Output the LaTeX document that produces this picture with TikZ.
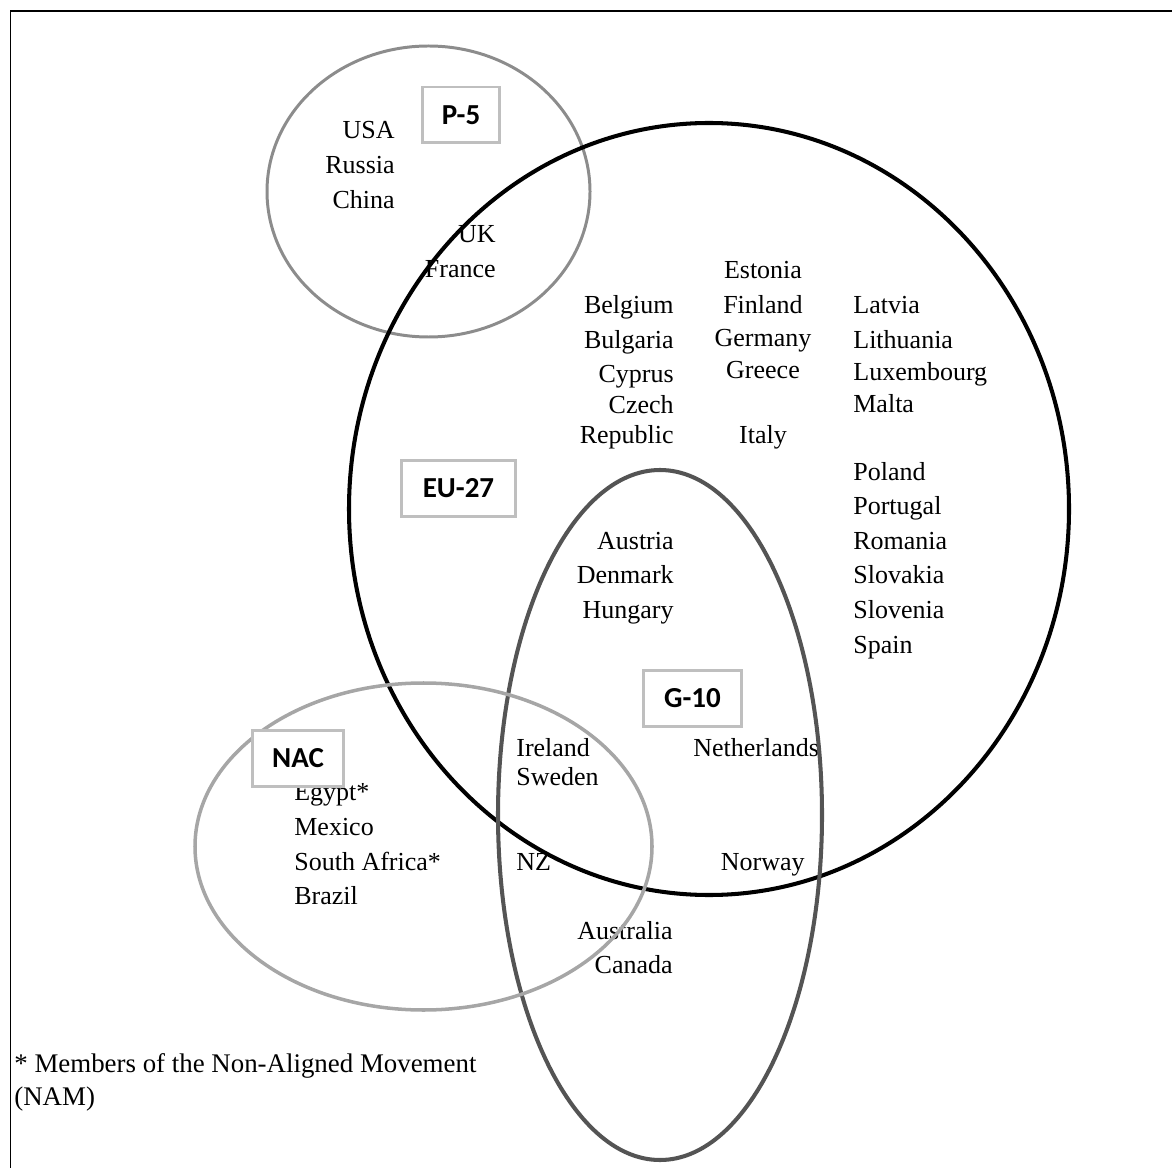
\documentclass[tikz,border=0pt]{standalone}
\usepackage{fontspec}
\setmainfont{Liberation Serif}
\newfontfamily\tagfont{Carlito}
\usepackage{tikz}
\usetikzlibrary{positioning}

\begin{document}
\begin{tikzpicture}[x=0.02cm,y=-0.02cm,
	country/.style={inner sep=0pt,font=\fontsize{14.8}{17}\selectfont},
	tagbox/.style={draw=black!25,line width=1.7pt,fill=white,minimum height=1.12cm,
		font=\tagfont\bfseries\fontsize{16.5}{18}\selectfont}]
	\useasboundingbox (0,0) rectangle (1172,1168);
	% Draw frame
	\draw[line width=1.1pt] (10.5,1168) -- (10.5,11) -- (1172,11);
	% Draw P-5 members
	\foreach \c [count=\i] in {USA,Russia,China}
		\node[country,anchor=base east] (p5-\i) at (395,{104+34.7*\i}) {\c};
	\node[country,anchor=base east] (uk) at (496,243) {UK};
	\node[country,anchor=base east] (france) at (496,278) {France};
	% Draw EU-27 members
	\node[country,anchor=base east] (belgium) at (674,314) {Belgium};
	\node[country,anchor=base east] (bulgaria) at (674,349) {Bulgaria};
	\node[country,anchor=base east] (cyprus) at (674,383) {Cyprus};
	\node[country,anchor=base east] (czech) at (674,414) {Czech};
	\node[country,anchor=base east] (republic) at (674,444) {Republic};
	\node[country,anchor=base] (estonia) at (763,279) {Estonia};
	\node[country,anchor=base] (finland) at (763,314) {Finland};
	\node[country,anchor=base] (germany) at (763,347) {Germany};
	\node[country,anchor=base] (greece) at (763,379) {Greece};
	\node[country,anchor=base] (italy) at (763,444) {Italy};
	\node[country,anchor=base west] (latvia) at (853,314) {Latvia};
	\node[country,anchor=base west] (lithuania) at (853,349) {Lithuania};
	\node[country,anchor=base west] (luxembourg) at (853,381) {Luxembourg};
	\node[country,anchor=base west] (malta) at (853,413) {Malta};
	\foreach \c [count=\i] in {Poland,Portugal,Romania,Slovakia,Slovenia,Spain}
		\node[country,anchor=base west] (eu-\i) at (853,{445.4+34.6*\i}) {\c};
	\foreach \c [count=\i] in {Austria,Denmark,Hungary}
		\node[country,anchor=base east] (eg-\i) at (674,{514.5+34.5*\i}) {\c};
	% Draw G-10 members
	\node[country,anchor=base west] (ireland) at (516,756) {Ireland};
	\node[country,anchor=base west] (sweden) at (516,785) {Sweden};
	\node[country,anchor=base west] (netherlands) at (693,756) {Netherlands};
	\node[country,anchor=base west] (nz) at (516,870) {NZ};
	\node[country,anchor=base east] (norway) at (805,870) {Norway};
	\node[country,anchor=base east] (australia) at (673,939) {Australia};
	\node[country,anchor=base east] (canada) at (673,973) {Canada};
	% Draw NAC members
	\foreach \c [count=\i] in {Egypt*,Mexico,South Africa*,Brazil}
		\node[country,anchor=base west] (nac-\i) at (294,{766+34.7*\i}) {\c};
	% Footnote
	\node[country,font=\fontsize{15.3}{17}\selectfont,anchor=base west] (note) at (14,1072) {* Members of the Non-Aligned Movement};
	\node[country,font=\fontsize{15.3}{17}\selectfont,anchor=base west] (nam) at (14,1105) {(NAM)};
	% Draw sets
	\draw[black!45,line width=1.7pt] (428.5,191.5) ellipse [x radius=161.5,y radius=145.5];
	\draw[black,line width=2.3pt] (709,509) ellipse [x radius=360,y radius=386];
	\draw[black!67,line width=2.3pt] (660,815) ellipse [x radius=162,y radius=345];
	\draw[black!35,line width=2pt] (423.5,846.5) ellipse [x radius=228.5,y radius=163.5];
	% Draw set labels
	\node[tagbox,minimum width=1.53cm] (p5) at (461,115) {P-5};
	\node[tagbox,minimum width=2.27cm] (eu27) at (458.5,488.5) {EU-27};
	\node[tagbox,minimum width=1.95cm] (g10) at (692.5,698.5) {G-10};
	\node[tagbox,minimum width=1.81cm] (nac) at (298,758.5) {NAC};
\end{tikzpicture}
\end{document}
